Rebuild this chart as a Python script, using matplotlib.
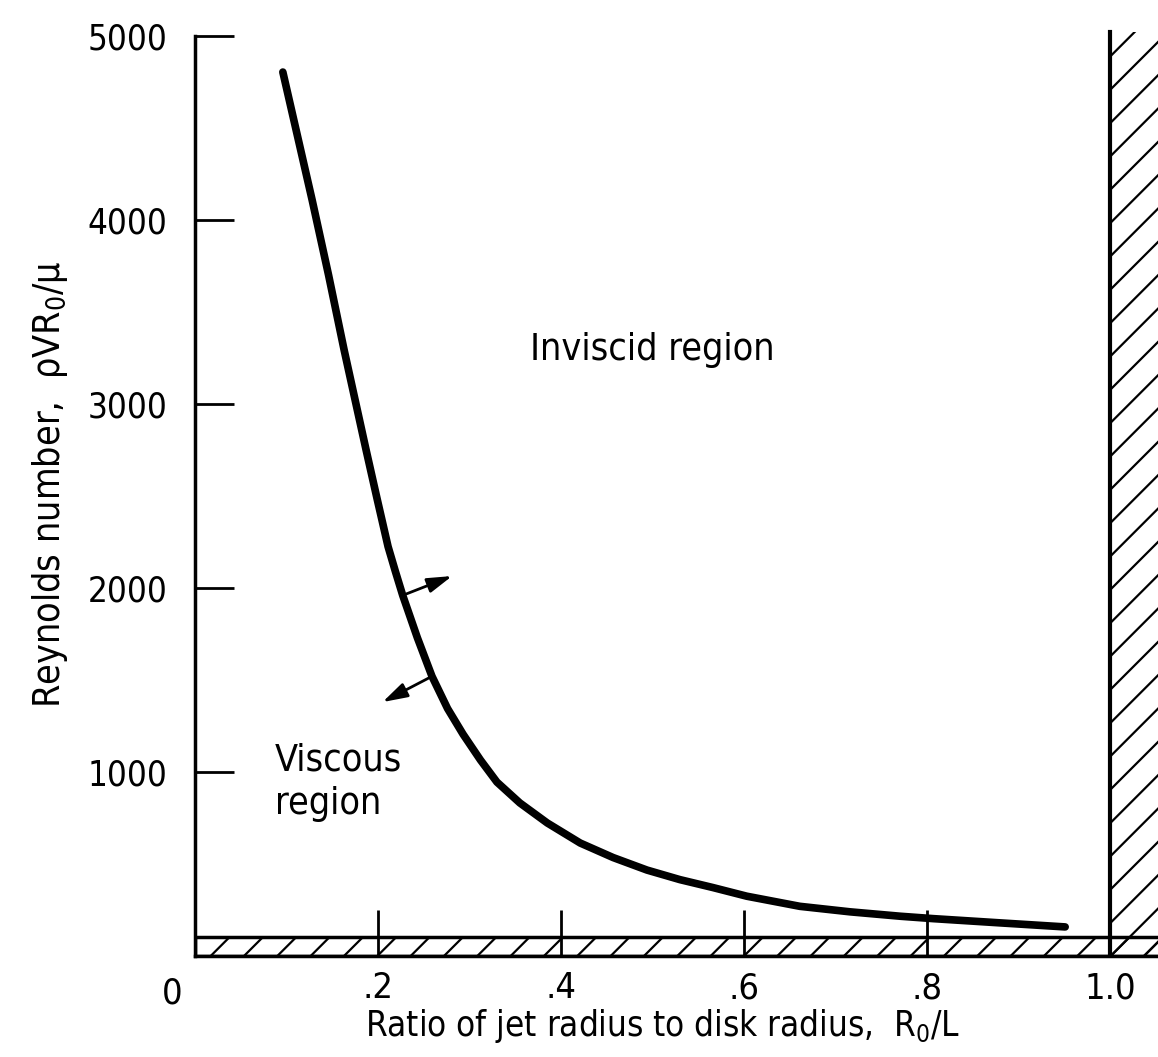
import matplotlib
matplotlib.use("Agg")
import matplotlib.pyplot as plt
from matplotlib.patches import Rectangle
from matplotlib import font_manager as fm

# pick a narrow sans font if one is installed
_fonts = fm.fontManager.ttflist
_names = {f.name for f in _fonts}
if 'Liberation Sans Narrow' in _names:
    plt.rcParams['font.family'] = ['Liberation Sans Narrow', 'DejaVu Sans']
elif any(f.name == 'DejaVu Sans' and str(f.stretch) in ('condensed', 'semi-condensed', '700', '600')
         for f in _fonts):
    plt.rcParams['font.family'] = ['DejaVu Sans']
    plt.rcParams['font.stretch'] = 'condensed'
else:
    plt.rcParams['font.family'] = ['Liberation Sans', 'DejaVu Sans']
plt.rcParams['mathtext.default'] = 'regular'
plt.rcParams['hatch.linewidth'] = 1.6

# ---- data ----
ratio = [0.096, 0.128, 0.146, 0.163, 0.187, 0.199, 0.211, 0.219, 0.227,
         0.243, 0.259, 0.276, 0.293, 0.312, 0.330, 0.355, 0.385, 0.421,
         0.457, 0.494, 0.530, 0.566, 0.603, 0.661, 0.716, 0.771, 0.807,
         0.880, 0.951]
reynolds = [4804, 4109, 3700, 3293, 2750, 2485, 2225, 2090, 1960,
            1730, 1520, 1345, 1205, 1065, 945, 832, 723, 614,
            535, 467, 415, 372, 325, 270, 240, 216, 203,
            180, 158]

x_ticks = [0.2, 0.4, 0.6, 0.8, 1.0]
x_tick_labels = ['.2', '.4', '.6', '.8', '1.0']
y_ticks = [1000, 2000, 3000, 4000, 5000]
y_tick_labels = ['1000', '2000', '3000', '4000', '5000']

band_top = 105          # hatched floor band (Reynolds number)
wall_x = 1.0            # hatched wall at ratio = 1
wall_top = 5020

arrow_out_start = (0.227, 1960)
arrow_out_end = (0.281, 2065)
arrow_in_start = (0.259, 1520)
arrow_in_end = (0.205, 1380)

W, H = 1158, 1057
fig = plt.figure(figsize=(W / 100, H / 100), dpi=100)
ax = fig.add_axes([195 / W, 101 / H, 963 / W, 948 / H])
ax.set_xlim(0, 963 / 915)
ax.set_ylim(0, 948 / 0.184)

for s in ['top', 'right']:
    ax.spines[s].set_visible(False)
ax.spines['left'].set_bounds(0, 5000)
ax.spines['left'].set_linewidth(2.5)
ax.spines['bottom'].set_linewidth(2.5)

ax.set_xticks(x_ticks)
ax.set_xticklabels(x_tick_labels)
ax.set_yticks(y_ticks)
ax.set_yticklabels(y_tick_labels)
ax.tick_params(axis='x', direction='in', length=33, width=2, pad=11, labelsize=26)
ax.tick_params(axis='y', direction='in', length=28, width=2, pad=20, labelsize=25)

# hatched floor band
ax.add_patch(Rectangle((0, 0), 1.2, band_top, fill=False, hatch='/',
                       edgecolor='black', linewidth=2.5, zorder=2))
# hatched wall at ratio = 1
ax.add_patch(Rectangle((wall_x, 0), 0.2, wall_top, fill=False, hatch='/',
                       edgecolor='black', linewidth=0, zorder=2))
ax.plot([wall_x, wall_x], [0, wall_top], color='black', lw=3, zorder=3)

# boundary curve
ax.plot(ratio, reynolds, color='black', lw=5.5, solid_capstyle='round',
        solid_joinstyle='round', zorder=4)

arrow_props = dict(arrowstyle='-|>,head_length=1.5,head_width=0.45',
                   color='black', lw=2, shrinkA=0, shrinkB=0)
ax.annotate('', xy=arrow_out_end, xytext=arrow_out_start, arrowprops=arrow_props)
ax.annotate('', xy=arrow_in_end, xytext=arrow_in_start, arrowprops=arrow_props)

ax.text(0.366, 3239, 'Inviscid region', fontsize=27, va='baseline', ha='left')
ax.text(0.087, 1163, 'Viscous\nregion', fontsize=27, va='top', ha='left',
        linespacing=1.28)

ax.text(-0.025, -205, '0', fontsize=26, ha='center', va='center', clip_on=False)

ax.set_xlabel('Ratio of jet radius to disk radius,  R$_0$/L', fontsize=25)
ax.xaxis.set_label_coords(0.485, -0.054)
ax.set_ylabel('Reynolds number,  ρVR$_0$/μ', fontsize=27)
ax.yaxis.set_label_coords(-0.130, 0.498)

fig.savefig('out.png', dpi=100)
